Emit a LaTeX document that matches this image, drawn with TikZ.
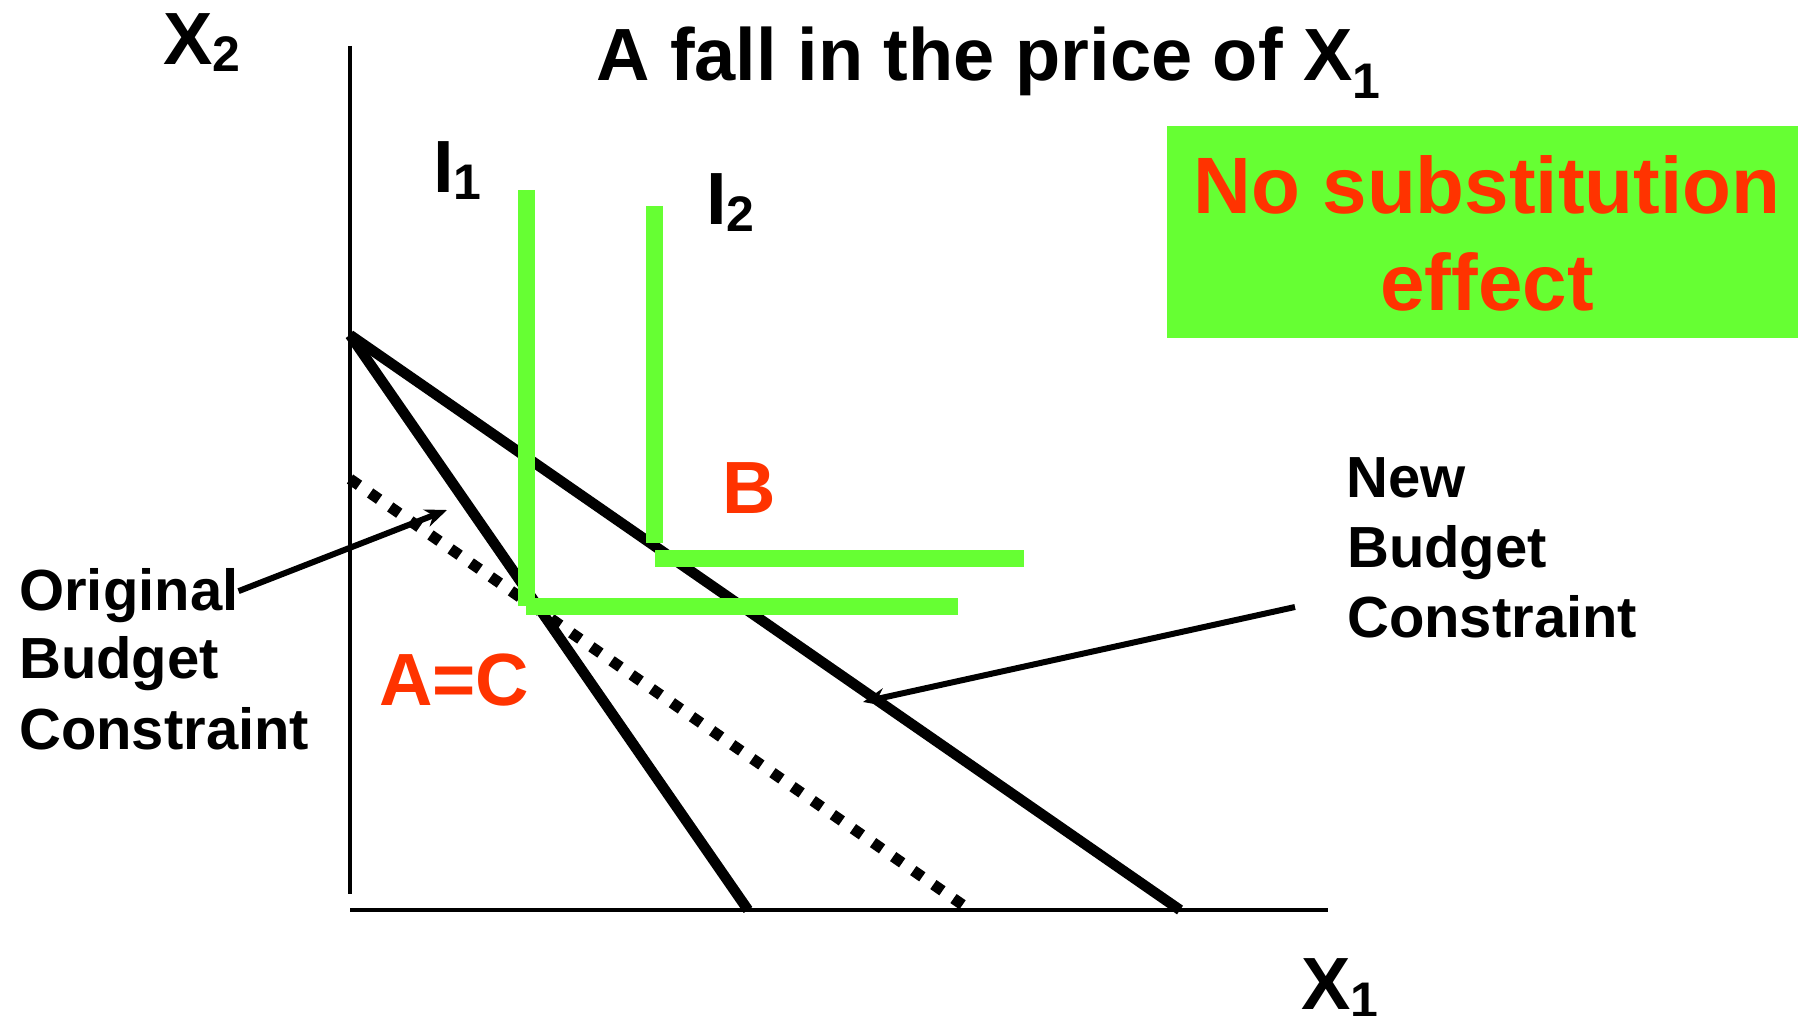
\documentclass[tikz,border=0pt]{standalone}
\usepackage{fontspec}
\setmainfont{Liberation Sans}
\usetikzlibrary{arrows.meta}
\definecolor{pgreen}{HTML}{66FF33}
\definecolor{pred}{HTML}{FF3300}
\newcommand{\fsz}[1]{\fontsize{#1}{#1}\selectfont}
\newcommand{\subdrop}[2]{\raisebox{-#1pt}{\fsz{50}#2}}
\begin{document}
\begin{tikzpicture}[x=1pt,y=-1pt,
  lbl/.style={inner sep=0pt, anchor=base west, font=\bfseries\fsz{74}},
  small/.style={inner sep=0pt, anchor=base west, font=\bfseries\fsz{58}},
  boxtxt/.style={inner sep=0pt, anchor=base, text=pred, font=\bfseries\fsz{80}},
  axisline/.style={line width=3.5pt},
  budget/.style={line width=10.5pt},
  dotbudget/.style={line width=11pt, dash pattern=on 11pt off 13.5pt},
  indiff/.style={line width=17pt, draw=pgreen},
  pointer/.style={line width=6pt, -{Stealth[length=22pt,width=18pt]}}]
\useasboundingbox (0,0) rectangle (1798,1016);
% coordinates
\coordinate (yaxtop) at (350,46);
\coordinate (yaxbot) at (350,894);
\coordinate (xaxl) at (350,910);
\coordinate (xaxr) at (1328,910);
\coordinate (top) at (350,335);
\coordinate (origx) at (748,910);
\coordinate (newx) at (1180,910);
\coordinate (d0) at (350,479);
\coordinate (d1) at (970,910);
\coordinate (tip1) at (447,510);
\coordinate (nstart) at (1295,607);
\coordinate (tip2) at (863,702);
\coordinate (i1top) at (526,190);
\coordinate (i1c) at (526,606);
\coordinate (i1r) at (958,606);
\coordinate (i2top) at (654.5,206);
\coordinate (i2bot) at (654.5,543);
\coordinate (i2l) at (655,558);
\coordinate (i2r) at (1024,558);
% green box
\node[fill=pgreen, inner sep=0pt, minimum width=631pt, minimum height=212pt, anchor=north west] (box) at (1167,126) {};
\node[boxtxt] (box1) at (1487,214) {No substitution};
\node[boxtxt] (box2) at (1487,310) {effect};
% axes
\draw[axisline] (yaxtop) -- (yaxbot);
\draw[axisline] (xaxl) -- (xaxr);
% budget lines
\draw[budget] (top) -- (origx);
\draw[budget] (top) -- (newx);
\draw[dotbudget] (d0) -- (d1);
% labels
\node[lbl] (title) at (596,81) {A fall in the price of X\subdrop{18}{1}};
\node[lbl] (x2) at (163,65) {X\subdrop{7}{2}};
\node[lbl] (x1) at (1301,1009) {X\subdrop{8}{1}};
\node[lbl] (i1) at (433,193) {I\subdrop{7}{1}};
\node[lbl] (i2) at (706,225) {I\subdrop{7}{2}};
\node[lbl, text=pred] (b) at (722,513) {B};
\node[lbl, text=pred] (ac) at (379,705) {A=C};
\node[small] (orig1) at (19,610) {Original};
\node[small] (orig2) at (19,678) {Budget};
\node[small] (orig3) at (19,749) {Constraint};
\node[small] (new1) at (1346,497) {New};
\node[small] (new2) at (1347,567) {Budget};
\node[small] (new3) at (1347,637) {Constraint};
% pointers
\draw[pointer] ([yshift=4pt]orig1.east) -- (tip1);
\draw[pointer] (nstart) -- (tip2);
% indifference curves
\draw[indiff] (i1top) -- (i1c);
\draw[indiff] (i1c) -- (i1r);
\draw[indiff] (i2top) -- (i2bot);
\draw[indiff] (i2l) -- (i2r);
\end{tikzpicture}
\end{document}
